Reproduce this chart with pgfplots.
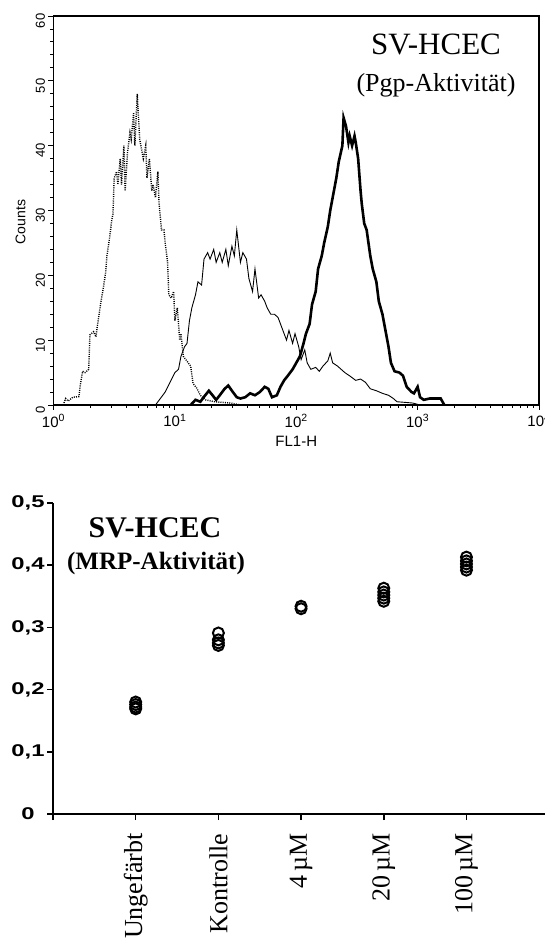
\documentclass[border=0pt]{standalone}
\usepackage{pgfplots}
\pgfplotsset{compat=1.18}
\usepackage{pgfplotstable}
\usepackage{graphicx}
\usepackage{fontspec}
\setmainfont{Liberation Serif}
\setsansfont{Liberation Sans}

% top panel: log10(FL1-H) vs counts
\pgfplotstableread{
lx c
0.08 0
0.10 1.0
0.12 0.6
0.16 1.2
0.21 1.3
0.22 3
0.24 5.2
0.26 5.0
0.29 5.5
0.30 10.8
0.33 11.3
0.35 10.5
0.36 12
0.39 15.8
0.41 18
0.43 20.5
0.44 23
0.46 25.5
0.48 28.5
0.49 29.5
0.50 35
0.52 36
0.53 34
0.55 38
0.56 34
0.58 40
0.59 33
0.61 39
0.63 42
0.64 41
0.66 45
0.67 40
0.69 48
0.71 41
0.72 40
0.74 38
0.76 40
0.77 35
0.79 38
0.81 33
0.82 34
0.84 32
0.86 36
0.87 31
0.89 27
0.91 27
0.92 25
0.94 22
0.95 17
0.97 16.5
0.99 17.5
1.00 13
1.02 15
1.04 10
1.05 11
1.07 7.5
1.09 7
1.13 6
1.15 3.3
1.18 2.6
1.21 1.5
1.25 0.8
1.33 0.5
1.46 0.3
1.54 0
}\unstained

\pgfplotstableread{
lx c
0.84 0
0.88 1
0.92 2
0.96 3.5
1.00 5
1.03 5.5
1.05 7.5
1.08 9
1.10 9.5
1.12 13
1.14 15
1.17 17
1.19 19
1.22 18.5
1.24 22.5
1.27 23.5
1.29 22.5
1.32 24
1.34 22
1.37 23.5
1.39 22
1.42 24
1.44 21.5
1.47 24.5
1.49 23
1.51 27
1.54 22
1.56 23.5
1.59 22.5
1.61 19.5
1.64 17.5
1.66 21
1.69 16.5
1.71 17
1.74 16
1.76 15
1.79 14
1.82 14
1.85 13.5
1.88 12
1.92 10
1.94 11.5
1.97 9.5
1.99 11
2.02 9
2.04 7
2.07 8.5
2.09 6.5
2.12 5.5
2.16 5.8
2.19 5.2
2.22 6
2.26 6.8
2.28 8
2.30 6.5
2.34 6
2.37 5.5
2.40 5
2.44 4.5
2.49 3.8
2.53 4
2.57 3.5
2.61 2.5
2.66 2.2
2.71 1.8
2.76 1.5
2.80 1.0
2.83 0.5
2.90 0.4
2.96 0.3
3.02 0
}\control

\pgfplotstableread{
lx c
1.13 0
1.17 0.8
1.21 0.5
1.25 1.5
1.28 2.2
1.31 1.5
1.34 0.8
1.37 1.5
1.41 2.5
1.44 3
1.47 2.2
1.51 1.2
1.54 1
1.58 1.2
1.62 1.8
1.66 1.5
1.70 2
1.74 2.8
1.77 2.5
1.80 1.2
1.84 1.5
1.87 2.8
1.90 3.8
1.93 4.5
1.97 5.5
2.00 6.5
2.03 7.5
2.06 9.5
2.08 11
2.11 12.5
2.13 15.5
2.16 17.5
2.18 21
2.21 23
2.23 25
2.26 27.5
2.28 30
2.30 32
2.33 35
2.35 37.5
2.38 40
2.39 44.3
2.41 43
2.43 40.5
2.44 41.5
2.46 40
2.48 41.5
2.49 40.5
2.51 38
2.53 33
2.54 31
2.56 28
2.58 27
2.61 23
2.63 21
2.66 19
2.68 16
2.71 14
2.73 12
2.76 9
2.78 6.5
2.81 5.2
2.85 5
2.88 4.5
2.91 2.8
2.95 2
2.97 1.8
3.00 2.8
3.02 1.2
3.05 0.8
3.10 1.0
3.19 1.0
3.22 0
}\treated

% bottom panel
\pgfplotstableread{
x y
1 0.169
1 0.172
1 0.176
1 0.180
2 0.291
2 0.280
2 0.275
2 0.271
3 0.334
3 0.330
4 0.363
4 0.357
4 0.352
4 0.347
4 0.342
5 0.413
5 0.407
5 0.402
5 0.397
5 0.392
}\mrp

\begin{document}
\begin{tikzpicture}[x=1pt,y=1pt]
\useasboundingbox (0,0) rectangle (545,942);

\begin{axis}[
  at={(53.5pt,537pt)}, anchor=south west,
  scale only axis, width=485.5pt, height=389pt,
  xmin=0, xmax=4, ymin=0, ymax=60,
  axis line style={line width=1.3pt},
  tick style={line width=0.9pt, black},
  tick align=outside,
  major tick length=5pt, minor tick length=3pt,
  xtick pos=bottom, ytick pos=left,
  xtick={0,1,2,3,4},
  xticklabels={10\textsuperscript{0},10\textsuperscript{1},10\textsuperscript{2},10\textsuperscript{3},10\textsuperscript{4}},
  minor xtick={0.301,0.477,0.602,0.699,0.778,0.845,0.903,0.954,
               1.301,1.477,1.602,1.699,1.778,1.845,1.903,1.954,
               2.301,2.477,2.602,2.699,2.778,2.845,2.903,2.954,
               3.301,3.477,3.602,3.699,3.778,3.845,3.903,3.954},
  ytick={0,10,...,60}, minor y tick num=4,
  xticklabel style={font=\fontsize{15}{17}\sffamily, yshift=-1pt},
  yticklabel style={font=\fontsize{13}{15}\sffamily, rotate=90, anchor=south, xshift=-5pt},
  /pgf/number format/assume math mode=true,
  ylabel={Counts},
  ylabel style={font=\fontsize{14}{16}\sffamily, at={(axis description cs:-0.068,0.47)}, anchor=center, rotate=0},
  xlabel={FL1-H},
  xlabel style={font=\fontsize{15}{17}\sffamily, at={(axis description cs:0.5,-0.0925)}, anchor=center},
  clip=false,
]
\addplot[black, line width=1.4pt, dash pattern=on 1pt off 1.2pt] table[x=lx,y=c] {\unstained};
\addplot[black, line width=0.9pt] table[x=lx,y=c] {\control};
\addplot[black, line width=2.6pt, line join=miter] table[x=lx,y=c] {\treated};
\end{axis}

\node[font=\fontsize{31}{34}\selectfont, anchor=base] at (436,887) {SV-HCEC};
\node[font=\fontsize{26}{30}\selectfont, anchor=base] at (436,850) {(Pgp-Aktivität)};

\begin{axis}[
  at={(53pt,128pt)}, anchor=south west,
  scale only axis, width=492pt, height=311pt,
  xmin=0, xmax=5.95, ymin=0, ymax=0.5,
  axis x line=bottom, axis y line=left,
  axis line style={line width=2pt, -},
  tick style={line width=1.6pt, black},
  tick align=outside, major tick length=6pt,
  xtick={0,1,2,3,4,5},
  xticklabels={{},Ungefärbt,Kontrolle,4\,µM,20\,µM,100\,µM},
  xticklabel style={font=\fontsize{26}{30}\selectfont, rotate=90, anchor=east, xshift=-10pt},
  ytick={0,0.1,0.2,0.3,0.4,0.5},
  yticklabels={
    {\scalebox{1.4}[1]{0}},
    {\scalebox{1.4}[1]{0,1}},
    {\scalebox{1.4}[1]{0,2}},
    {\scalebox{1.4}[1]{0,3}},
    {\scalebox{1.4}[1]{0,4}},
    {\scalebox{1.4}[1]{0,5}}},
  yticklabel style={font=\fontsize{17}{19}\sffamily\bfseries, anchor=center, xshift=-19pt},
  clip=false,
]
\addplot[only marks, mark=o, mark size=5.5pt, mark options={line width=2pt, black}] table[x=x,y=y] {\mrp};
\end{axis}

\node[font=\fontsize{30}{34}\selectfont\bfseries, anchor=base] at (155,404) {SV-HCEC};
\node[font=\fontsize{25}{28}\selectfont\bfseries, anchor=base] at (156,372) {(MRP-Aktivität)};

\end{tikzpicture}
\end{document}
